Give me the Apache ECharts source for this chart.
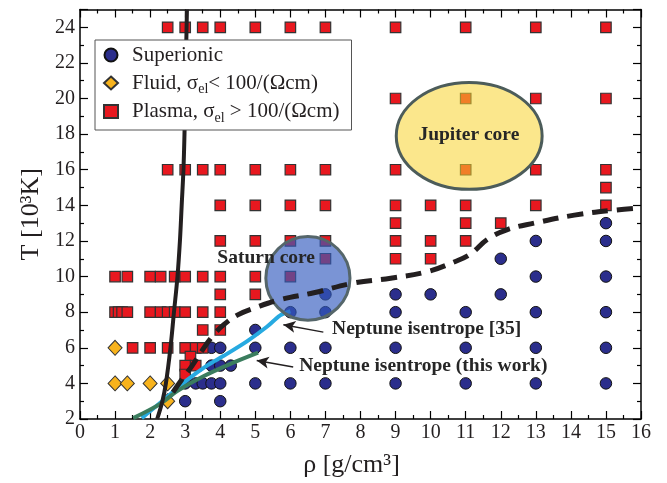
<!DOCTYPE html>
<html><head><meta charset="utf-8">
<script src="https://cdn.jsdelivr.net/npm/echarts@6/dist/echarts.min.js"></script>
<style>html,body{margin:0;padding:0;background:#fff}#c{width:667px;height:483px}</style>
</head><body><div id="c"></div>
<script>
// ---- data (rho [g/cm3], T [10^3 K]) ----
const superionic = [
  [15,13],[13,12],[15,12],[12,11],[13,10],[15,10],
  [7,9],[9,9],[10,9],[12,9],
  [6,8],[7,8],[9,8],[11,8],[13,8],[15,8],
  [5,7],
  [3.75,6],[4,6],[5,6],[6,6],[7,6],[9,6],[11,6],[13,6],[15,6],
  [3.75,5],[4,5],[4.3,5],
  [3,4],[3.3,4],[3.5,4],[3.75,4],[4,4],[5,4],[6,4],[7,4],[9,4],[11,4],[13,4],[15,4],
  [3,3],[4,3]
];
const fluid = [[1,6],[1,4],[1.35,4],[2,4],[2.5,4],[2.5,3]];
const plasma = [
  [2.5,24],[3,24],[3.5,24],[4,24],[5,24],[6,24],[7,24],[9,24],[11,24],[13,24],[15,24],
  [9,20],[11,20],[13,20],[15,20],
  [2.5,16],[3,16],[3.5,16],[4,16],[5,16],[6,16],[7,16],[9,16],[11,16],[13,16],[15,16],
  [15,15],
  [4,14],[5,14],[6,14],[7,14],[9,14],[10,14],[11,14],[13,14],[15,14],
  [9,13],[11,13],[12,13],
  [4,12],[5,12],[6,12],[7,12],[9,12],[10,12],[11,12],
  [7,11],[9,11],[10,11],
  [1,10],[1.35,10],[2,10],[2.3,10],[2.7,10],[3,10],[3.5,10],[4,10],[5,10],[6,10],
  [4,9],[5,9],
  [1,8],[1.1,8],[1.2,8],[1.35,8],[2,8],[2.3,8],[2.5,8],[2.7,8],[3,8],[3.5,8],[4,8],
  [3.5,7],[4,7],
  [1.5,6],[2,6],[2.5,6],[3,6],[3.3,6],[3.5,6],
  [3.15,5.5],[3,5],[3.3,5],[3,4.5]
];
const meltingLine = [[2.2,2],[2.35,3],[2.45,4],[2.58,6],[2.68,8],[2.78,10],[2.85,12],[2.9,14],[2.95,16],[2.98,18],[3.0,20],[3.02,22],[3.05,25]];
const boundaryLine = [[2.65,3.5],[2.9,4.2],[3.2,5],[3.5,5.9],[3.8,6.7],[4.1,7.3],[4.5,7.85],[5,8.25],[5.7,8.7],[6.67,9.09],[7.81,9.64],[8.86,9.91],[9.9,10.27],[10.67,10.82],[11.14,11.27],[11.62,12.09],[12.19,12.64],[12.95,13],[14.1,13.45],[15.24,13.73],[16,13.85]];
const neptune35 = [[1.76,2.05],[2.29,2.91],[3.05,4.18],[3.62,5],[4.1,5.55],[4.76,6.36],[5.33,7.18],[5.71,7.82],[6,8.05]];
const neptuneThisWork = [[1.52,2.05],[2.29,2.85],[2.76,3.55],[3.52,4.4],[4.29,5.1],[5.08,5.73]];
// ellipses: [centerRho, centerT, radiusRho, radiusT]
const jupiterCore = [11.1, 17.9, 2.08, 3.0];
const saturnCore = [6.5, 9.9, 1.2, 2.35];
const annotationTexts = ['Jupiter core','Saturn core','Neptune isentrope [35]','Neptune isentrope (this work)'];
const annotationPos = [[11.09,17.97],[5.31,11.03],[7.19,7.03],[6.25,5.0]];
const arrow35 = [[6.94,6.88],[5.8,7.29]];
const arrowThisWork = [[6.08,4.92],[5.04,5.28]];
const xTicks = {min:0, max:16, interval:1};
const yTicks = {min:2, max:25, interval:2};
const legendNames = ['Superionic','Fluid','Plasma'];
const legendLabels = {
  'Superionic':'{pad| }Superionic',
  'Fluid':'{pad| }Fluid, σ{sub|el}< 100/(Ωcm)',
  'Plasma':'{pad| }Plasma, σ{sub|el} > 100/(Ωcm)'
};

const SERIF = 'Liberation Serif';
const INK = '#231f20';
const chart = echarts.init(document.getElementById('c'), null, {renderer:'canvas'});

function axisCommon(show) {
  return {
    axisLine:{show:true, onZero:false, lineStyle:{color:'#000', width:1.5}},
    axisTick:{show:true, inside:true, length:8, lineStyle:{color:'#000', width:1.2}},
    minorTick:{show:true, splitNumber:2, length:4, lineStyle:{color:'#000', width:1.2}},
    splitLine:{show:false},
    axisLabel:{show:show, color:INK, fontFamily:SERIF, fontSize:20}
  };
}

function ellipseSeries(params, fill, stroke, z) {
  return {
    type:'custom', z:z, silent:true,
    data:[params],
    renderItem:function(p, api){
      const c = api.coord([api.value(0), api.value(1)]);
      const s = api.size([api.value(2), api.value(3)]);
      return {type:'ellipse', shape:{cx:c[0], cy:c[1], rx:s[0], ry:s[1]},
              style:{fill:fill, stroke:stroke, lineWidth:3}};
    }
  };
}

const option = {
  animation:false,
  backgroundColor:'#fff',
  grid:{left:80, right:26, top:9.5, bottom:53, containLabel:false},
  xAxis:[
    Object.assign({type:'value', position:'bottom', min:xTicks.min, max:xTicks.max, interval:xTicks.interval,
      name:'ρ [g/cm³]', nameLocation:'middle', nameGap:33,
      nameTextStyle:{fontFamily:SERIF, fontSize:26, color:INK, padding:[0,18,0,0]}}, axisCommon(true),
      {axisLabel:{show:true, color:INK, fontFamily:SERIF, fontSize:20, margin:4}}),
    Object.assign({type:'value', position:'top', min:xTicks.min, max:xTicks.max, interval:xTicks.interval}, axisCommon(false))
  ],
  yAxis:[
    Object.assign({type:'value', position:'left', min:yTicks.min, max:yTicks.max, interval:yTicks.interval,
      name:'T [10³K]', nameLocation:'middle', nameGap:26,
      nameTextStyle:{fontFamily:SERIF, fontSize:26, color:INK}}, axisCommon(true),
      {axisLabel:{show:true, color:INK, fontFamily:SERIF, fontSize:20, margin:5, showMaxLabel:false}}),
    Object.assign({type:'value', position:'right', min:yTicks.min, max:yTicks.max, interval:yTicks.interval}, axisCommon(false))
  ],
  legend:{
    data:legendNames, orient:'vertical', left:95, top:40,
    backgroundColor:'#fff', borderColor:'#555', borderWidth:1,
    padding:[2,12,5,8], itemGap:1.5, itemWidth:14, itemHeight:13,
    formatter:function(n){ return legendLabels[n]; },
    textStyle:{fontFamily:SERIF, fontSize:21, color:INK, lineHeight:26,
      rich:{
        pad:{fontFamily:SERIF, fontSize:21, width:9, lineHeight:26},
        sub:{fontFamily:SERIF, fontSize:14, color:INK, lineHeight:13, padding:[13,0,0,0]}}},
    selectedMode:false, z:20
  },
  series:[
    {name:'Superionic', type:'scatter', data:superionic, symbol:'circle', symbolSize:11.5, z:2,
     itemStyle:{color:'#2b2e8c', borderColor:'#111', borderWidth:1, opacity:1}},
    {name:'Fluid', type:'scatter', data:fluid, symbol:'diamond', symbolSize:[14,15], z:2,
     itemStyle:{color:'#f8b31c', borderColor:'#333', borderWidth:1, opacity:1}},
    {name:'Plasma', type:'scatter', data:plasma, symbol:'rect', symbolSize:10.5, z:2,
     itemStyle:{color:'#e8181f', borderColor:'#333', borderWidth:1.2, opacity:1}},
    {name:'nep35', type:'line', data:neptune35, showSymbol:false, symbol:'none', smooth:0.3, z:3,
     lineStyle:{color:'#27aae1', width:4}},
    {name:'nepThis', type:'line', data:neptuneThisWork, showSymbol:false, symbol:'none', smooth:0.3, z:3,
     lineStyle:{color:'#3b7d5e', width:4}},
    ellipseSeries(jupiterCore, 'rgba(248,211,46,0.55)', '#4c5c5a', 4),
    ellipseSeries(saturnCore, 'rgba(50,90,190,0.65)', '#55666a', 4),
    {name:'melt', type:'line', data:meltingLine, showSymbol:false, symbol:'none', smooth:0.4, z:5,
     lineStyle:{color:INK, width:4}},
    {name:'boundary', type:'line', data:boundaryLine, showSymbol:false, symbol:'none', smooth:0.4, z:5,
     lineStyle:{color:INK, width:5, type:[16,9]}},
    {name:'arrows', type:'line', data:[], z:6,
     markLine:{silent:true, symbol:['none','arrow'], symbolSize:[9,12], label:{show:false},
       lineStyle:{color:INK, width:1.5, type:'solid'},
       data:[[{coord:arrow35[0]},{coord:arrow35[1]}],[{coord:arrowThisWork[0]},{coord:arrowThisWork[1]}]]}},
    {name:'labels', type:'custom', z:7, silent:true,
     data:annotationPos.map(function(p,i){return [p[0],p[1],i];}),
     renderItem:function(p, api){
       const i = api.value(2);
       const c = api.coord([api.value(0), api.value(1)]);
       return {type:'text', x:c[0], y:c[1],
         style:{text:annotationTexts[i], fill:'#262626', font:'bold 19.5px "Liberation Serif"',
           align: i < 2 ? 'center' : 'left', verticalAlign:'middle'}};
     }}
  ]
};
chart.setOption(option);
</script>
</body></html>
